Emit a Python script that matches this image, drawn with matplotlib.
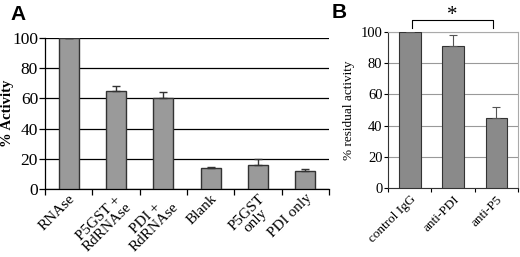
import matplotlib.pyplot as plt
import numpy as np

# --- data ---
a_labels = ["RNAse", "P5GST +\nRdRNAse", "PDI +\nRdRNAse", "Blank", "P5GST\nonly", "PDI only"]
a_values = [100, 65, 60, 14, 16, 12]
a_errors = [0, 3, 4, 0.5, 4, 1]

b_labels = ["control IgG", "anti-PDI", "anti-P5"]
b_values = [100, 91, 45]
b_errors = [0, 7, 7]

plt.rcParams["font.family"] = ["Liberation Serif", "DejaVu Serif"]

fig = plt.figure(figsize=(5.2, 2.57), dpi=100)

# --- panel A ---
axA = fig.add_axes([45 / 520, 1 - 189 / 257, 284 / 520, 151 / 257])
xa = np.arange(len(a_values))
axA.bar(xa, a_values, width=0.42, color="#9a9a9a", edgecolor="#333333", linewidth=1.0, zorder=3)
axA.errorbar(xa, a_values, yerr=[np.zeros(len(a_errors)), a_errors], fmt="none",
             ecolor="#333333", elinewidth=1.0, capsize=3, capthick=1.0, zorder=4)
axA.set_xlim(-0.5, len(a_values) - 0.5)
axA.set_ylim(0, 100)
axA.set_yticks([0, 20, 40, 60, 80, 100])
axA.yaxis.grid(True, color="black", linewidth=0.9, zorder=0)
axA.set_xticks(xa)
axA.set_xticklabels(a_labels, rotation=45, ha="right", rotation_mode="anchor", fontsize=11,
                    linespacing=0.9, multialignment="center")
axA.set_xticks(np.arange(-0.5, len(a_values)), minor=True)
axA.tick_params(axis="x", which="major", length=0, pad=2)
axA.tick_params(axis="x", which="minor", length=4, width=0.9)
axA.tick_params(axis="y", length=4, width=0.9, labelsize=12.5, pad=1)
for s in ["top", "right"]:
    axA.spines[s].set_visible(False)
axA.spines["left"].set_linewidth(0.9)
axA.spines["bottom"].set_linewidth(0.9)
axA.set_ylabel("% Activity", fontsize=10.5, fontweight="bold")
axA.yaxis.set_label_coords(-0.108, 0.5)
fig.text(10 / 520, 1 - 14 / 257, "A", fontsize=15, fontweight="bold",
         family=["Liberation Sans", "DejaVu Sans"], va="center", ha="left")

# --- panel B ---
axB = fig.add_axes([388 / 520, 1 - 188 / 257, 130 / 520, 156 / 257])
xb = np.arange(len(b_values))
axB.bar(xb, b_values, width=0.5, color="#8a8a8a", edgecolor="#333333", linewidth=0.8, zorder=3)
axB.errorbar(xb, b_values, yerr=[np.zeros(len(b_errors)), b_errors], fmt="none",
             ecolor="#555555", elinewidth=0.8, capsize=3, capthick=0.8, zorder=4)
axB.set_xlim(-0.5, len(b_values) - 0.5)
axB.set_ylim(0, 100)
axB.set_yticks([0, 20, 40, 60, 80, 100])
axB.yaxis.grid(True, color="#999999", linewidth=0.8, zorder=0)
axB.set_xticks(xb)
axB.set_xticklabels(b_labels, rotation=45, ha="right", rotation_mode="anchor", fontsize=9.5)
axB.set_xticks(np.arange(-0.5, len(b_values)), minor=True)
axB.tick_params(axis="x", which="major", length=0, pad=4)
axB.tick_params(axis="x", which="minor", length=3, width=0.8)
axB.tick_params(axis="y", length=3, width=0.8, labelsize=10.5, pad=1)
for s in ["top", "right"]:
    axB.spines[s].set_color("#aaaaaa")
    axB.spines[s].set_linewidth(0.8)
axB.spines["left"].set_color("#333333")
axB.spines["bottom"].set_color("#333333")
axB.set_ylabel("% residual activity", fontsize=9.5)
axB.yaxis.set_label_coords(-0.255, 0.5)
fig.text(332 / 520, 1 - 12 / 257, "B", fontsize=15, fontweight="bold",
         family=["Liberation Sans", "DejaVu Sans"], va="center", ha="left")

# significance bracket
axB.plot([0.05, 0.05, 1.92, 1.92], [102.5, 108, 108, 102.5], color="black", linewidth=0.8,
         clip_on=False)
axB.text(0.98, 104.5, "*", ha="center", va="bottom", fontsize=15, clip_on=False)

fig.savefig("out.png", dpi=100)
